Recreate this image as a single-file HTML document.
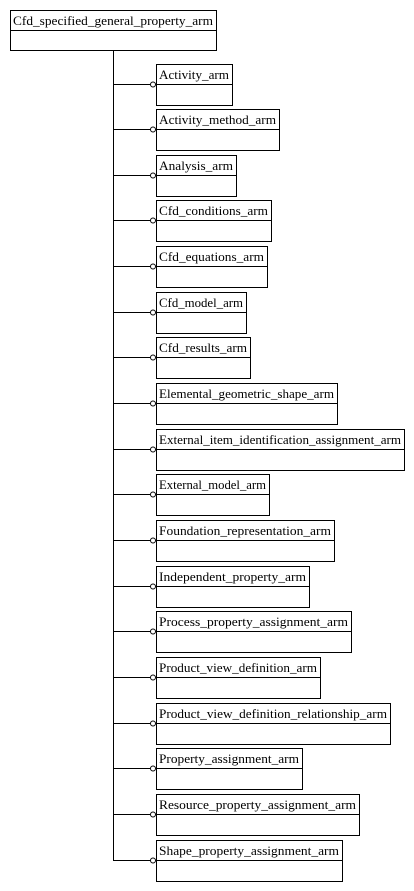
<!DOCTYPE html>
<html><head><meta charset="utf-8"><style>
html,body{margin:0;padding:0;background:#fff;}
svg{display:block;}
text{font-family:"Liberation Serif",serif;font-size:13px;fill:#000;}
</style></head><body>
<svg width="414" height="891" viewBox="0 0 414 891" xmlns="http://www.w3.org/2000/svg" shape-rendering="crispEdges">
<g fill="none" stroke="#000" stroke-width="1">
<rect x="10.5" y="10.5" width="206" height="40"/>
<line x1="10" y1="30.5" x2="217" y2="30.5"/>
<line x1="113.5" y1="51" x2="113.5" y2="861"/>
</g>
<text x="13" y="25" textLength="200" lengthAdjust="spacingAndGlyphs">Cfd_specified_general_property_arm</text>
<g id="rows"></g>
<g fill="none" stroke="#000">
<rect x="156.5" y="64.5" width="76" height="41"/><line x1="156" y1="84.5" x2="233" y2="84.5"/><line x1="113" y1="84.5" x2="150" y2="84.5"/>
<rect x="156.5" y="109.5" width="123" height="41"/><line x1="156" y1="129.5" x2="280" y2="129.5"/><line x1="113" y1="129.5" x2="150" y2="129.5"/>
<rect x="156.5" y="155.5" width="80" height="41"/><line x1="156" y1="175.5" x2="237" y2="175.5"/><line x1="113" y1="175.5" x2="150" y2="175.5"/>
<rect x="156.5" y="200.5" width="115" height="41"/><line x1="156" y1="220.5" x2="272" y2="220.5"/><line x1="113" y1="220.5" x2="150" y2="220.5"/>
<rect x="156.5" y="246.5" width="111" height="41"/><line x1="156" y1="266.5" x2="268" y2="266.5"/><line x1="113" y1="266.5" x2="150" y2="266.5"/>
<rect x="156.5" y="292.5" width="90" height="41"/><line x1="156" y1="312.5" x2="247" y2="312.5"/><line x1="113" y1="312.5" x2="150" y2="312.5"/>
<rect x="156.5" y="337.5" width="94" height="41"/><line x1="156" y1="357.5" x2="251" y2="357.5"/><line x1="113" y1="357.5" x2="150" y2="357.5"/>
<rect x="156.5" y="383.5" width="181" height="41"/><line x1="156" y1="403.5" x2="338" y2="403.5"/><line x1="113" y1="403.5" x2="150" y2="403.5"/>
<rect x="156.5" y="429.5" width="248" height="41"/><line x1="156" y1="449.5" x2="405" y2="449.5"/><line x1="113" y1="449.5" x2="150" y2="449.5"/>
<rect x="156.5" y="474.5" width="113" height="41"/><line x1="156" y1="494.5" x2="270" y2="494.5"/><line x1="113" y1="494.5" x2="150" y2="494.5"/>
<rect x="156.5" y="520.5" width="178" height="41"/><line x1="156" y1="540.5" x2="335" y2="540.5"/><line x1="113" y1="540.5" x2="150" y2="540.5"/>
<rect x="156.5" y="566.5" width="153" height="41"/><line x1="156" y1="586.5" x2="310" y2="586.5"/><line x1="113" y1="586.5" x2="150" y2="586.5"/>
<rect x="156.5" y="611.5" width="195" height="41"/><line x1="156" y1="631.5" x2="352" y2="631.5"/><line x1="113" y1="631.5" x2="150" y2="631.5"/>
<rect x="156.5" y="657.5" width="164" height="41"/><line x1="156" y1="677.5" x2="321" y2="677.5"/><line x1="113" y1="677.5" x2="150" y2="677.5"/>
<rect x="156.5" y="703.5" width="234" height="41"/><line x1="156" y1="723.5" x2="391" y2="723.5"/><line x1="113" y1="723.5" x2="150" y2="723.5"/>
<rect x="156.5" y="748.5" width="146" height="41"/><line x1="156" y1="768.5" x2="303" y2="768.5"/><line x1="113" y1="768.5" x2="150" y2="768.5"/>
<rect x="156.5" y="794.5" width="203" height="41"/><line x1="156" y1="814.5" x2="360" y2="814.5"/><line x1="113" y1="814.5" x2="150" y2="814.5"/>
<rect x="156.5" y="840.5" width="186" height="41"/><line x1="156" y1="860.5" x2="343" y2="860.5"/><line x1="113" y1="860.5" x2="150" y2="860.5"/>
</g>
<g fill="#fff" stroke="#000" shape-rendering="auto">
<circle cx="153" cy="84.5" r="2.5"/><circle cx="153" cy="129.5" r="2.5"/><circle cx="153" cy="175.5" r="2.5"/><circle cx="153" cy="220.5" r="2.5"/><circle cx="153" cy="266.5" r="2.5"/><circle cx="153" cy="312.5" r="2.5"/><circle cx="153" cy="357.5" r="2.5"/><circle cx="153" cy="403.5" r="2.5"/><circle cx="153" cy="449.5" r="2.5"/><circle cx="153" cy="494.5" r="2.5"/><circle cx="153" cy="540.5" r="2.5"/><circle cx="153" cy="586.5" r="2.5"/><circle cx="153" cy="631.5" r="2.5"/><circle cx="153" cy="677.5" r="2.5"/><circle cx="153" cy="723.5" r="2.5"/><circle cx="153" cy="768.5" r="2.5"/><circle cx="153" cy="814.5" r="2.5"/><circle cx="153" cy="860.5" r="2.5"/>
</g>
<g lengthAdjust="spacingAndGlyphs">
<text x="159" y="79" textLength="70" lengthAdjust="spacingAndGlyphs">Activity_arm</text>
<text x="159" y="124" textLength="117" lengthAdjust="spacingAndGlyphs">Activity_method_arm</text>
<text x="159" y="170" textLength="74" lengthAdjust="spacingAndGlyphs">Analysis_arm</text>
<text x="159" y="215" textLength="109" lengthAdjust="spacingAndGlyphs">Cfd_conditions_arm</text>
<text x="159" y="261" textLength="105" lengthAdjust="spacingAndGlyphs">Cfd_equations_arm</text>
<text x="159" y="307" textLength="84" lengthAdjust="spacingAndGlyphs">Cfd_model_arm</text>
<text x="159" y="352" textLength="88" lengthAdjust="spacingAndGlyphs">Cfd_results_arm</text>
<text x="159" y="398" textLength="175" lengthAdjust="spacingAndGlyphs">Elemental_geometric_shape_arm</text>
<text x="159" y="444" textLength="242" lengthAdjust="spacingAndGlyphs">External_item_identification_assignment_arm</text>
<text x="159" y="489" textLength="107" lengthAdjust="spacingAndGlyphs">External_model_arm</text>
<text x="159" y="535" textLength="172" lengthAdjust="spacingAndGlyphs">Foundation_representation_arm</text>
<text x="159" y="581" textLength="147" lengthAdjust="spacingAndGlyphs">Independent_property_arm</text>
<text x="159" y="626" textLength="189" lengthAdjust="spacingAndGlyphs">Process_property_assignment_arm</text>
<text x="159" y="672" textLength="158" lengthAdjust="spacingAndGlyphs">Product_view_definition_arm</text>
<text x="159" y="718" textLength="228" lengthAdjust="spacingAndGlyphs">Product_view_definition_relationship_arm</text>
<text x="159" y="763" textLength="140" lengthAdjust="spacingAndGlyphs">Property_assignment_arm</text>
<text x="159" y="809" textLength="197" lengthAdjust="spacingAndGlyphs">Resource_property_assignment_arm</text>
<text x="159" y="855" textLength="180" lengthAdjust="spacingAndGlyphs">Shape_property_assignment_arm</text>
</g>
</svg>
</body></html>
